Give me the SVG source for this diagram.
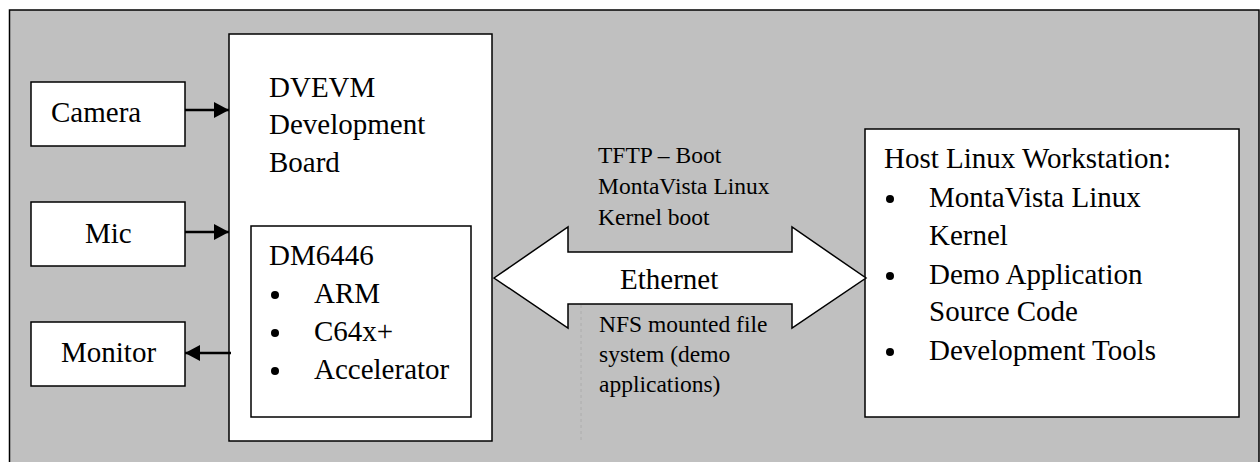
<svg xmlns="http://www.w3.org/2000/svg" width="1260" height="462" viewBox="0 0 1260 462">
<style>
.t{font-family:"Liberation Serif","Times New Roman",serif;font-size:29px;fill:#000}
.s{font-family:"Liberation Serif","Times New Roman",serif;font-size:23.5px;fill:#000}
.box{fill:#fff;stroke:#000;stroke-width:1.5}
.conn{stroke:#000;stroke-width:2.6;fill:none}
</style>
<defs>
<marker id="ah" markerWidth="15" markerHeight="16" refX="15" refY="8" orient="auto" markerUnits="userSpaceOnUse">
<path d="M0,0 L15,8 L0,16 Z" fill="#000"/>
</marker>
</defs>
<rect x="9.5" y="10" width="1249.5" height="470" fill="#c0c0c0" stroke="#000" stroke-width="1.5"/>
<line x1="581" y1="305" x2="581" y2="443" stroke="#a8a8a8" stroke-width="0.8" stroke-dasharray="3,3"/>
<g id="camera">
<rect class="box" x="31" y="82" width="154" height="64"/>
<text class="t" x="51" y="122">Camera</text>
</g>
<g id="mic">
<rect class="box" x="31" y="202" width="154" height="64"/>
<text class="t" x="85" y="243">Mic</text>
</g>
<g id="monitor">
<rect class="box" x="31" y="322" width="154" height="64"/>
<text class="t" x="61" y="362">Monitor</text>
</g>
<g id="dvevm">
<rect class="box" x="229" y="34" width="263" height="407"/>
<text class="t" x="269" y="97">DVEVM</text>
<text class="t" x="269" y="134">Development</text>
<text class="t" x="269" y="172">Board</text>
</g>
<g id="dm6446">
<rect class="box" x="251" y="226" width="220" height="191"/>
<text class="t" x="269" y="265">DM6446</text>
<circle cx="275" cy="295" r="4"/>
<text class="t" x="314" y="303">ARM</text>
<circle cx="275" cy="333" r="4"/>
<text class="t" x="314" y="341">C64x+</text>
<circle cx="275" cy="371" r="4"/>
<text class="t" x="314" y="379">Accelerator</text>
</g>
<g id="host">
<rect class="box" x="865" y="129" width="374" height="288"/>
<text class="t" x="884" y="168">Host Linux Workstation:</text>
<circle cx="890" cy="199" r="4"/>
<text class="t" x="929" y="207">MontaVista Linux</text>
<text class="t" x="929" y="245">Kernel</text>
<circle cx="890" cy="276" r="4"/>
<text class="t" x="929" y="284">Demo Application</text>
<text class="t" x="929" y="321">Source Code</text>
<circle cx="890" cy="352" r="4"/>
<text class="t" x="929" y="360">Development Tools</text>
</g>
<g id="connectors">
<line class="conn" x1="185" y1="110" x2="229" y2="110" marker-end="url(#ah)"/>
<line class="conn" x1="185" y1="232" x2="229" y2="232" marker-end="url(#ah)"/>
<line class="conn" x1="231" y1="353" x2="185" y2="353" marker-end="url(#ah)"/>
<g id="ethernet">
<path d="M494,278 L568,227 L568,252 L792,252 L792,227 L866,278 L792,328 L792,304 L568,304 L568,328 Z" fill="#fff" stroke="#000" stroke-width="1.5" stroke-linejoin="miter"/>
<text class="t" x="620" y="289">Ethernet</text>
</g>
<text class="s" x="598" y="163">TFTP – Boot</text>
<text class="s" x="598" y="194">MontaVista Linux</text>
<text class="s" x="598" y="225">Kernel boot</text>
<text class="s" x="599" y="332">NFS mounted file</text>
<text class="s" x="599" y="362">system (demo</text>
<text class="s" x="599" y="392">applications)</text>
</g>
</svg>
